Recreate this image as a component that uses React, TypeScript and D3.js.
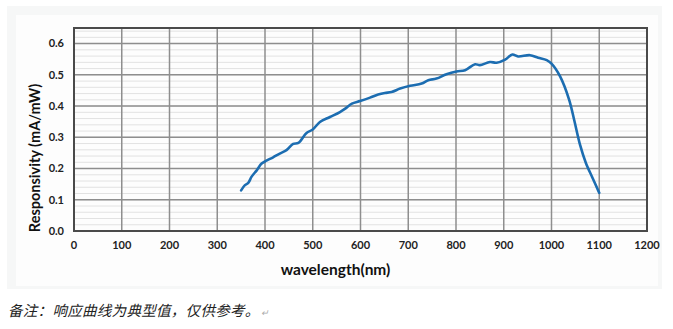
import React from "react";
import * as d3 from "d3";

const wavelength = [350, 358, 365, 372, 383, 393, 403, 417, 431, 445, 459, 470, 487, 500, 515, 536, 557, 568, 582, 599, 620, 637, 651, 665, 683, 704, 728, 742, 759, 780, 801, 819, 840, 850, 871, 885, 903, 918, 930, 955, 972, 990, 1000, 1018, 1037, 1048, 1060, 1072, 1086, 1100];
const responsivity = [0.13, 0.147, 0.154, 0.174, 0.195, 0.216, 0.225, 0.236, 0.248, 0.259, 0.279, 0.282, 0.314, 0.325, 0.349, 0.365, 0.381, 0.392, 0.408, 0.416, 0.427, 0.437, 0.442, 0.445, 0.456, 0.465, 0.472, 0.483, 0.488, 0.502, 0.511, 0.515, 0.534, 0.531, 0.541, 0.539, 0.549, 0.565, 0.559, 0.563, 0.555, 0.547, 0.536, 0.495, 0.42, 0.352, 0.275, 0.218, 0.17, 0.122];
const xTicks = [0, 100, 200, 300, 400, 500, 600, 700, 800, 900, 1000, 1100, 1200];
const yTicks = [0, 0.1, 0.2, 0.3, 0.4, 0.5, 0.6];
const yMinor = d3.range(0, 0.65, 0.02);
const xTitle = "wavelength(nm)";
const yTitle = "Responsivity (mA/mW)";
const note = "备注：响应曲线为典型值，仅供参考。";

export default function App() {
  const W = 673, H = 329;
  const L = 74, R = 647, T = 28, B = 231;
  const x = d3.scaleLinear().domain([0, 1200]).range([L, R]);
  const y = d3.scaleLinear().domain([0, 0.65]).range([B, T]);
  const pts: [number, number][] = wavelength.map((w, i) => [w, responsivity[i]]);
  const line = d3.line<[number, number]>().x(d => x(d[0])).y(d => y(d[1])).curve(d3.curveCatmullRom.alpha(0.5));
  const font = "Lato, 'Open Sans', sans-serif";
  return (
    <svg width={W} height={H} style={{ position: "absolute", left: 0, top: 0, background: "#fff" }}>
      <rect x={7} y={6} width={655} height={283} fill="#f6f7f7" />
      <rect x={16} y={15} width={642} height={271} fill="#fdfdfd" />
      {yMinor.map((v, i) => (
        <line key={"m" + i} x1={L} x2={R} y1={y(v)} y2={y(v)} stroke="#e2e2e2" strokeWidth={1} />
      ))}
      {xTicks.map(t => (
        <line key={"vx" + t} x1={x(t)} x2={x(t)} y1={T} y2={B} stroke="#8e8e8e" strokeWidth={1.5} />
      ))}
      {yTicks.map(t => (
        <line key={"hy" + t} x1={L} x2={R} y1={y(t)} y2={y(t)} stroke="#8e8e8e" strokeWidth={1.5} />
      ))}
      <rect x={L} y={T} width={R - L} height={B - T} fill="none" stroke="#4a4a4a" strokeWidth={2} />
      <path d={line(pts) || ""} fill="none" stroke="#1c6db1" strokeWidth={2.6} strokeLinejoin="round" strokeLinecap="round" />
      {yTicks.map(t => (
        <text key={"yl" + t} x={64} y={y(t)} dy="0.35em" textAnchor="end" fontFamily={font} fontWeight="bold" fontSize={11} fill="#222">
          {d3.format(".1f")(t)}
        </text>
      ))}
      {xTicks.map(t => (
        <text key={"xl" + t} x={x(t)} y={245.5} dy="0.35em" textAnchor="middle" fontFamily={font} fontWeight="bold" fontSize={11} fill="#222">
          {t}
        </text>
      ))}
      <text x={335.5} y={270} dy="0.35em" textAnchor="middle" fontFamily={font} fontWeight="bold" fontSize={15.5} fill="#111">
        {xTitle}
      </text>
      <text transform="translate(35,158) rotate(-90)" dy="0.35em" textAnchor="middle" fontFamily={font} fontWeight="bold" fontSize={14.5} fill="#111">
        {yTitle}
      </text>
      <text x={8} y={311} dy="0.35em" fontFamily="'Noto Sans CJK SC', sans-serif" fontStyle="italic" fontSize={14.5} fill="#222" letterSpacing={0.3}>
        <tspan>{note}</tspan>
        <tspan fill="#aaa" fontSize={9} dx={1}>↵</tspan>
      </text>
    </svg>
  );
}
